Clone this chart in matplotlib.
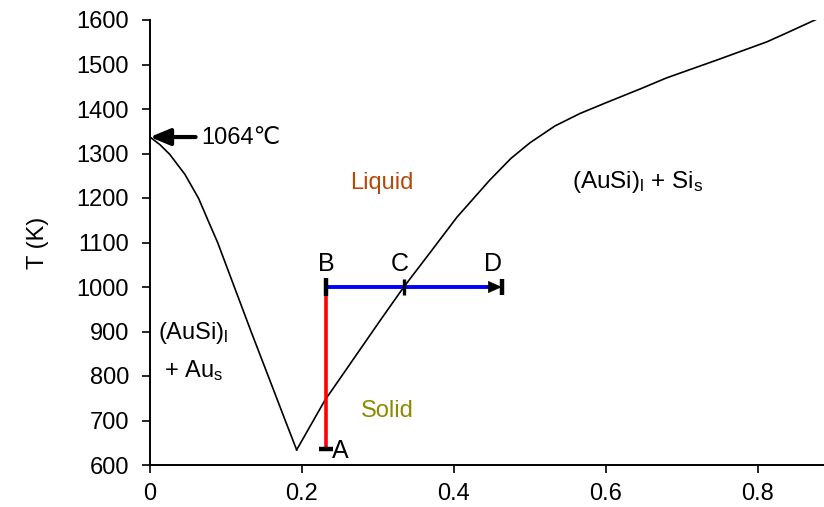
import matplotlib
matplotlib.use("Agg")
import matplotlib.pyplot as plt

# Liquidus curve (mole fraction Si vs temperature K)
liq_left_x = [0.0, 0.013, 0.026, 0.046, 0.064, 0.076, 0.089, 0.111, 0.133, 0.156, 0.178, 0.193]
liq_left_T = [1337, 1320, 1298, 1253, 1199, 1151, 1100, 1000, 900, 798, 700, 634]
liq_right_x = [0.193, 0.23, 0.303, 0.334, 0.368, 0.404, 0.447, 0.475, 0.5, 0.533, 0.566, 0.6, 0.645, 0.68,
               0.746, 0.812, 0.838, 0.884]
liq_right_T = [634, 745, 925, 1000, 1076, 1157, 1240, 1289, 1324, 1362, 1390, 1414, 1445, 1470,
               1510, 1551, 1571, 1607]

# Path points
pt_A = (0.232, 636)
pt_B = (0.232, 1000)
pt_C = (0.334, 1000)
pt_D = (0.463, 1000)

x_ticks = [0, 0.2, 0.4, 0.6, 0.8]
x_tick_labels = ["0", "0.2", "0.4", "0.6", "0.8"]
y_ticks = list(range(600, 1700, 100))

plt.rcParams['font.family'] = ['Liberation Sans', 'DejaVu Sans']
plt.rcParams['mathtext.default'] = 'regular'

FS = 17

fig = plt.figure(figsize=(8.24, 5.07), dpi=100)
ax = fig.add_axes([150/824, 1-465/507, 1-150/824, (465-20)/507])

ax.plot(liq_left_x, liq_left_T, color='black', lw=1.2, solid_joinstyle='round')
ax.plot(liq_right_x, liq_right_T, color='black', lw=1.2, solid_joinstyle='round')

# red vertical A->B
ax.plot([pt_A[0], pt_B[0]], [pt_A[1], pt_B[1]], color='#ff0000', lw=2.6, solid_capstyle='butt', zorder=3)
# blue horizontal B->D
ax.plot([pt_B[0], pt_D[0] - 0.012], [pt_B[1], pt_D[1]], color='#0000ff', lw=2.8, solid_capstyle='butt', zorder=3)
ax.annotate('', xy=(pt_D[0], pt_D[1]), xytext=(pt_D[0] - 0.02, pt_D[1]),
            arrowprops=dict(arrowstyle='-|>,head_length=0.9,head_width=0.4', color='black', lw=0.5,
                            shrinkA=0, shrinkB=0), zorder=4)
# tick marks
ax.plot([pt_B[0]], [pt_B[1]], marker='|', color='black', ms=13, mew=3.2, zorder=5)
ax.plot([pt_C[0]], [pt_C[1]], marker='|', color='black', ms=11, mew=2.4, zorder=5)
ax.plot([pt_D[0]], [pt_D[1]], marker='|', color='black', ms=12, mew=3.2, zorder=5)
ax.plot([pt_A[0]], [pt_A[1]], marker='_', color='black', ms=10, mew=3.2, zorder=5)

# point labels
lab_kw = dict(fontsize=18, family=['Liberation Sans Narrow', 'Liberation Sans'], color='black')
ax.text(pt_B[0], 1051, 'B', ha='center', va='center', **lab_kw)
ax.text(0.329, 1051, 'C', ha='center', va='center', **lab_kw)
ax.text(0.451, 1051, 'D', ha='center', va='center', **lab_kw)
ax.text(0.24, 632, 'A', ha='left', va='center', **lab_kw)

# 1064 C arrow
ax.annotate('', xy=(0.0, 1337), xytext=(0.06, 1337),
            arrowprops=dict(arrowstyle='-|>,head_length=1.2,head_width=0.5', color='black', lw=3,
                            shrinkA=0, shrinkB=0), annotation_clip=False, zorder=4)
ax.text(0.068, 1335, '1064\u2103', fontsize=FS, ha='left', va='center')

# region labels
ax.text(0.305, 1234, 'Liquid', fontsize=FS, color='#b5470b', ha='center', va='center')
ax.text(0.312, 722, 'Solid', fontsize=FS, color='#8b8a00', ha='center', va='center')
ax.text(0.642, 1236, '(AuSi)$_l$ + Si$_s$', fontsize=FS + 0.5, ha='center', va='center')
ax.text(0.057, 897, '(AuSi)$_l$', fontsize=FS, ha='center', va='center')
ax.text(0.057, 813, '+ Au$_s$', fontsize=FS, ha='center', va='center')

ax.set_xlim(0, 0.887)
ax.set_ylim(600, 1600)
ax.set_xticks(x_ticks)
ax.set_xticklabels(x_tick_labels)
ax.set_yticks(y_ticks)
ax.tick_params(axis='both', labelsize=FS, length=6, width=1.2, direction='out')
ax.tick_params(axis='y', pad=9)
ax.tick_params(axis='x', pad=7)
ax.set_ylabel('T (K)', fontsize=FS, labelpad=20)
for s in ['top', 'right']:
    ax.spines[s].set_visible(False)
for s in ['left', 'bottom']:
    ax.spines[s].set_linewidth(1.4)

fig.savefig('out.png', dpi=100)
